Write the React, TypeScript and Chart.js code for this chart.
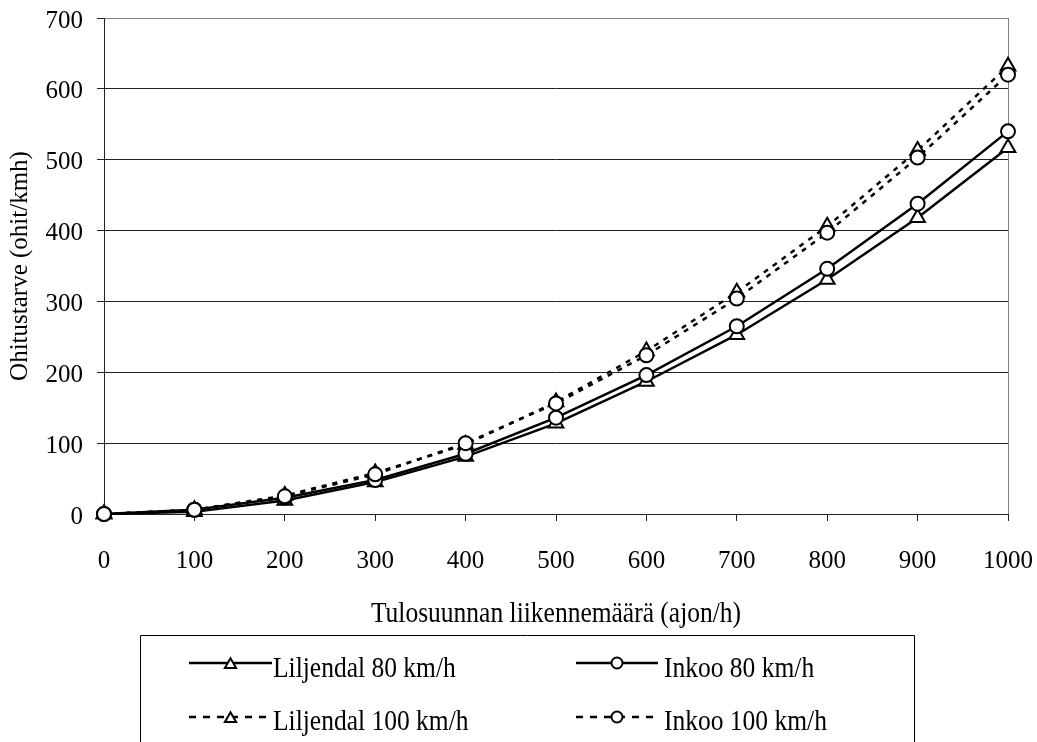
import React, { useEffect, useRef } from "react";
import { Chart, registerables } from "chart.js";

Chart.register(...registerables);

const xValues = [0, 100, 200, 300, 400, 500, 600, 700, 800, 900, 1000];
const liljendal80 = [0, 3, 19, 45, 81, 128, 187, 253, 331, 418, 517];
const inkoo80 = [0, 6, 23, 48, 85, 136, 196, 265, 346, 438, 540];
const liljendal100 = [0, 6, 26, 58, 98, 158, 230, 313, 406, 513, 632];
const inkoo100 = [0, 6, 25, 56, 100, 156, 224, 304, 397, 503, 620];

const seriesLabels = ["Liljendal 80 km/h", "Inkoo 80 km/h", "Liljendal 100 km/h", "Inkoo 100 km/h"];
const xTitle = "Tulosuunnan liikennemäärä (ajon/h)";
const yTitle = "Ohitustarve (ohit/kmh)";

const FONT = "'Liberation Serif', 'Times New Roman', serif";

function toPoints(ys: number[]) {
  return ys.map((y, i) => ({ x: xValues[i], y }));
}

function drawCondensed(ctx: CanvasRenderingContext2D, text: string, x: number, y: number, sx: number, align: CanvasTextAlign) {
  ctx.save();
  ctx.translate(x, y);
  ctx.scale(sx, 1);
  ctx.textAlign = align;
  ctx.textBaseline = "alphabetic";
  ctx.fillText(text, 0, 0);
  ctx.restore();
}

function drawMarker(ctx: CanvasRenderingContext2D, style: string, x: number, y: number) {
  ctx.save();
  ctx.setLineDash([]);
  ctx.lineWidth = 2;
  ctx.strokeStyle = "#000";
  ctx.fillStyle = "#fff";
  ctx.beginPath();
  if (style === "triangle") {
    const r = 6.5;
    for (let k = 0; k < 3; k++) {
      const a = -Math.PI / 2 + (k * 2 * Math.PI) / 3;
      const px = x + Math.cos(a) * r;
      const py = y + r / 4 + Math.sin(a) * r;
      if (k === 0) ctx.moveTo(px, py);
      else ctx.lineTo(px, py);
    }
    ctx.closePath();
  } else {
    ctx.arc(x, y, 5.5, 0, Math.PI * 2);
  }
  ctx.fill();
  ctx.stroke();
  ctx.restore();
}

const overlayPlugin = {
  id: "overlay",
  beforeDatasetsDraw(chart: any) {
    const ctx = chart.ctx as CanvasRenderingContext2D;
    const a = chart.chartArea;
    ctx.save();
    ctx.strokeStyle = "#808080";
    ctx.lineWidth = 1;
    ctx.beginPath();
    ctx.moveTo(Math.round(a.right) + 0.5, a.top);
    ctx.lineTo(Math.round(a.right) + 0.5, a.bottom);
    ctx.stroke();
    ctx.restore();
  },
  afterDraw(chart: any) {
    const ctx = chart.ctx as CanvasRenderingContext2D;
    const a = chart.chartArea;
    ctx.save();
    ctx.fillStyle = "#000";
    ctx.font = `30px ${FONT}`;
    drawCondensed(ctx, xTitle, (a.left + a.right) / 2, 622, 0.85, "center");

    // legend box
    ctx.strokeStyle = "#000";
    ctx.lineWidth = 1;
    ctx.beginPath();
    ctx.moveTo(140.5, 745);
    ctx.lineTo(140.5, 635.5);
    ctx.lineTo(914.5, 635.5);
    ctx.lineTo(914.5, 745);
    ctx.stroke();

    const entries = [
      { label: seriesLabels[0], x1: 189, x2: 272, tx: 273, y: 663, by: 677, dashed: false, style: "triangle" },
      { label: seriesLabels[1], x1: 576, x2: 658, tx: 664, y: 663, by: 677, dashed: false, style: "circle" },
      { label: seriesLabels[2], x1: 189, x2: 272, tx: 273, y: 717, by: 730, dashed: true, style: "triangle" },
      { label: seriesLabels[3], x1: 576, x2: 658, tx: 664, y: 717, by: 730, dashed: true, style: "circle" },
    ];
    for (const e of entries) {
      ctx.save();
      ctx.strokeStyle = "#000";
      ctx.lineWidth = 2.5;
      ctx.setLineDash(e.dashed ? [7, 7] : []);
      ctx.beginPath();
      ctx.moveTo(e.x1, e.y);
      ctx.lineTo(e.x2, e.y);
      ctx.stroke();
      ctx.restore();
      drawMarker(ctx, e.style, (e.x1 + e.x2) / 2, e.y);
      ctx.fillStyle = "#000";
      ctx.font = `30px ${FONT}`;
      drawCondensed(ctx, e.label, e.tx, e.by, 0.85, "left");
    }
    ctx.restore();
  },
};

export default function App() {
  const canvasRef = useRef<HTMLCanvasElement | null>(null);

  useEffect(() => {
    if (!canvasRef.current) return;
    const common = {
      borderColor: "#000",
      borderWidth: 2.5,
      pointBackgroundColor: "#fff",
      pointBorderColor: "#000",
      pointBorderWidth: 2,
      fill: false,
      tension: 0,
      clip: false,
    };
    const chart = new Chart(canvasRef.current, {
      type: "line",
      data: {
        datasets: [
          { ...common, label: seriesLabels[0], data: toPoints(liljendal80), pointStyle: "triangle", pointRadius: 8.5, order: 3 },
          { ...common, label: seriesLabels[1], data: toPoints(inkoo80), pointStyle: "circle", pointRadius: 7, order: 1 },
          { ...common, label: seriesLabels[2], data: toPoints(liljendal100), pointStyle: "triangle", pointRadius: 8.5, borderDash: [5, 6], order: 2 },
          { ...common, label: seriesLabels[3], data: toPoints(inkoo100), pointStyle: "circle", pointRadius: 7, borderDash: [5, 6], order: 0 },
        ] as any,
      },
      options: {
        responsive: false,
        animation: false,
        layout: { padding: { top: 18, right: 29, left: 0, bottom: 0 } },
        plugins: {
          legend: { display: false },
          tooltip: { enabled: false },
          title: { display: false },
        },
        scales: {
          x: {
            type: "linear",
            min: 0,
            max: 1000,
            afterFit: (scale: any) => {
              scale.height = 228;
              scale.paddingLeft = 0;
              scale.paddingRight = 0;
              scale.paddingTop = 0;
              scale.paddingBottom = 0;
            },
            ticks: {
              stepSize: 100,
              color: "#000",
              font: { family: FONT, size: 25 },
              padding: 25,
              maxRotation: 0,
              callback: (v: any) => String(v),
            },
            grid: {
              drawOnChartArea: false,
              drawTicks: true,
              tickLength: 7,
              tickColor: "#222",
            },
            border: { color: "#222", width: 1 },
          },
          y: {
            min: 0,
            max: 700,
            afterFit: (scale: any) => {
              scale.width = 104;
              scale.paddingLeft = 0;
              scale.paddingRight = 0;
              scale.paddingTop = 0;
              scale.paddingBottom = 0;
            },
            ticks: {
              stepSize: 100,
              color: "#000",
              font: { family: FONT, size: 25 },
              padding: 14,
              labelOffset: 3,
              callback: (v: any) => String(v),
            },
            grid: {
              color: (c: any) => (c.tick && c.tick.value === 700 ? "#808080" : "#222"),
              tickColor: "#222",
              tickLength: 7,
              lineWidth: 1,
            },
            border: { color: "#222", width: 1 },
            title: {
              display: true,
              text: yTitle,
              color: "#000",
              font: { family: FONT, size: 25 },
              padding: { top: 5, bottom: 0 },
            },
          },
        },
      } as any,
      plugins: [overlayPlugin],
    });
    return () => chart.destroy();
  }, []);

  return (
    <div style={{ position: "absolute", left: 0, top: 0, width: 1037, height: 742 }}>
      <canvas ref={canvasRef} width={1037} height={742} style={{ display: "block" }} />
    </div>
  );
}
